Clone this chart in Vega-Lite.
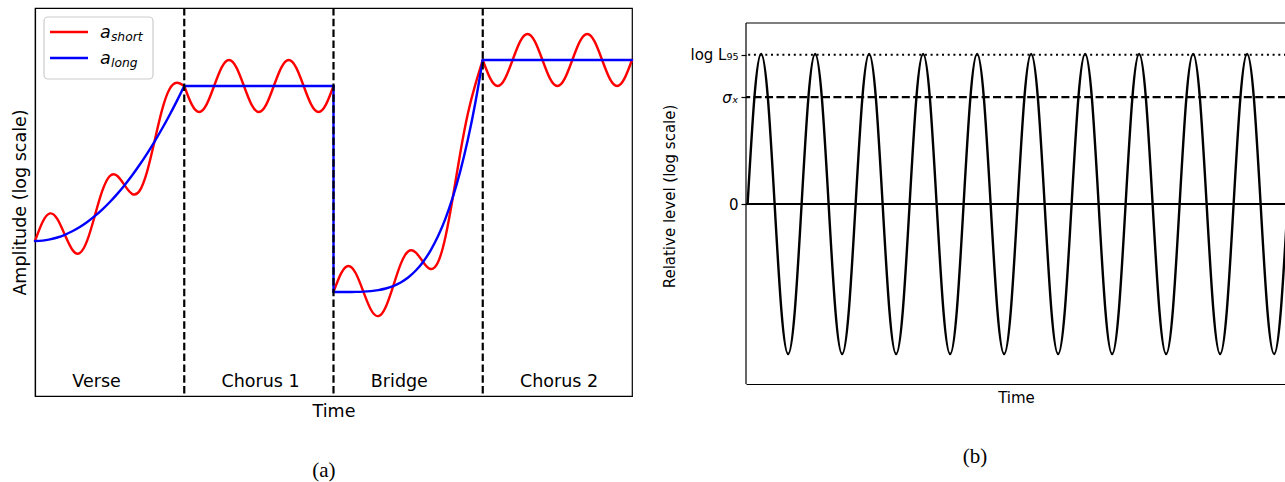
{
  "$schema": "https://vega.github.io/schema/vega-lite/v6.json",
  "padding": {"left": 10, "top": 6, "right": 0, "bottom": 0},
  "background": "white",
  "spacing": 24,
  "config": {
    "font": "DejaVu Sans",
    "view": {"stroke": "black", "strokeWidth": 1.2},
    "axis": {"grid": false, "labelColor": "black", "titleColor": "black", "titleFontWeight": "normal", "domainColor": "black", "tickColor": "black", "labelFont": "DejaVu Sans", "titleFont": "DejaVu Sans"},
    "title": {"color": "black"}
  },
  "datasets": {
    "red": [
      {"x": 0, "v": 155, "seg": "v"}, {"x": 0.05, "v": 173.78, "seg": "v"}, {"x": 0.1, "v": 182.55, "seg": "v"}, {"x": 0.15, "v": 176.88, "seg": "v"},
      {"x": 0.2, "v": 161.2, "seg": "v"}, {"x": 0.25, "v": 146.31, "seg": "v"}, {"x": 0.3, "v": 142.95, "seg": "v"}, {"x": 0.35, "v": 155.61, "seg": "v"},
      {"x": 0.4, "v": 179.8, "seg": "v"}, {"x": 0.45, "v": 204.78, "seg": "v"}, {"x": 0.5, "v": 219.75, "seg": "v"}, {"x": 0.55, "v": 220.28, "seg": "v"},
      {"x": 0.6, "v": 210.8, "seg": "v"}, {"x": 0.65, "v": 202.11, "seg": "v"}, {"x": 0.7, "v": 204.95, "seg": "v"}, {"x": 0.75, "v": 223.81, "seg": "v"},
      {"x": 0.8, "v": 254.2, "seg": "v"}, {"x": 0.85, "v": 285.38, "seg": "v"}, {"x": 0.9, "v": 306.55, "seg": "v"}, {"x": 0.95, "v": 313.28, "seg": "v"},
      {"x": 1, "v": 310, "seg": "v"},
      {"x": 1, "v": 310, "seg": "c1"}, {"x": 1.05, "v": 291.62, "seg": "c1"}, {"x": 1.1, "v": 284, "seg": "c1"}, {"x": 1.15, "v": 291.62, "seg": "c1"},
      {"x": 1.2, "v": 310, "seg": "c1"}, {"x": 1.25, "v": 328.38, "seg": "c1"}, {"x": 1.3, "v": 336, "seg": "c1"}, {"x": 1.35, "v": 328.38, "seg": "c1"},
      {"x": 1.4, "v": 310, "seg": "c1"}, {"x": 1.45, "v": 291.62, "seg": "c1"}, {"x": 1.5, "v": 284, "seg": "c1"}, {"x": 1.55, "v": 291.62, "seg": "c1"},
      {"x": 1.6, "v": 310, "seg": "c1"}, {"x": 1.65, "v": 328.38, "seg": "c1"}, {"x": 1.7, "v": 336, "seg": "c1"}, {"x": 1.75, "v": 328.38, "seg": "c1"},
      {"x": 1.8, "v": 310, "seg": "c1"}, {"x": 1.85, "v": 291.62, "seg": "c1"}, {"x": 1.9, "v": 284, "seg": "c1"}, {"x": 1.95, "v": 291.62, "seg": "c1"},
      {"x": 2, "v": 310, "seg": "c1"},
      {"x": 2, "v": 104, "seg": "b"}, {"x": 2.05, "v": 122.39, "seg": "b"}, {"x": 2.1, "v": 130.02, "seg": "b"}, {"x": 2.15, "v": 122.5, "seg": "b"},
      {"x": 2.2, "v": 104.37, "seg": "b"}, {"x": 2.25, "v": 86.52, "seg": "b"}, {"x": 2.3, "v": 79.88, "seg": "b"}, {"x": 2.35, "v": 89.1, "seg": "b"},
      {"x": 2.4, "v": 109.94, "seg": "b"}, {"x": 2.45, "v": 131.9, "seg": "b"}, {"x": 2.5, "v": 144.5, "seg": "b"}, {"x": 2.55, "v": 143.61, "seg": "b"},
      {"x": 2.6, "v": 134.07, "seg": "b"}, {"x": 2.65, "v": 127.03, "seg": "b"}, {"x": 2.7, "v": 133.7, "seg": "b"}, {"x": 2.75, "v": 159.03, "seg": "b"},
      {"x": 2.8, "v": 199.03, "seg": "b"}, {"x": 2.85, "v": 243.49, "seg": "b"}, {"x": 2.9, "v": 282.21, "seg": "b"}, {"x": 2.95, "v": 311.35, "seg": "b"},
      {"x": 3, "v": 336, "seg": "b"},
      {"x": 3, "v": 336, "seg": "c2"}, {"x": 3.05, "v": 317.62, "seg": "c2"}, {"x": 3.1, "v": 310, "seg": "c2"}, {"x": 3.15, "v": 317.62, "seg": "c2"},
      {"x": 3.2, "v": 336, "seg": "c2"}, {"x": 3.25, "v": 354.38, "seg": "c2"}, {"x": 3.3, "v": 362, "seg": "c2"}, {"x": 3.35, "v": 354.38, "seg": "c2"},
      {"x": 3.4, "v": 336, "seg": "c2"}, {"x": 3.45, "v": 317.62, "seg": "c2"}, {"x": 3.5, "v": 310, "seg": "c2"}, {"x": 3.55, "v": 317.62, "seg": "c2"},
      {"x": 3.6, "v": 336, "seg": "c2"}, {"x": 3.65, "v": 354.38, "seg": "c2"}, {"x": 3.7, "v": 362, "seg": "c2"}, {"x": 3.75, "v": 354.38, "seg": "c2"},
      {"x": 3.8, "v": 336, "seg": "c2"}, {"x": 3.85, "v": 317.62, "seg": "c2"}, {"x": 3.9, "v": 310, "seg": "c2"}, {"x": 3.95, "v": 317.62, "seg": "c2"},
      {"x": 4, "v": 336, "seg": "c2"}
    ],
    "blue": [
      {"x": 0, "v": 155, "seg": "v"}, {"x": 0.05, "v": 155.39, "seg": "v"}, {"x": 0.1, "v": 156.55, "seg": "v"}, {"x": 0.15, "v": 158.49, "seg": "v"},
      {"x": 0.2, "v": 161.2, "seg": "v"}, {"x": 0.25, "v": 164.69, "seg": "v"}, {"x": 0.3, "v": 168.95, "seg": "v"}, {"x": 0.35, "v": 173.99, "seg": "v"},
      {"x": 0.4, "v": 179.8, "seg": "v"}, {"x": 0.45, "v": 186.39, "seg": "v"}, {"x": 0.5, "v": 193.75, "seg": "v"}, {"x": 0.55, "v": 201.89, "seg": "v"},
      {"x": 0.6, "v": 210.8, "seg": "v"}, {"x": 0.65, "v": 220.49, "seg": "v"}, {"x": 0.7, "v": 230.95, "seg": "v"}, {"x": 0.75, "v": 242.19, "seg": "v"},
      {"x": 0.8, "v": 254.2, "seg": "v"}, {"x": 0.85, "v": 266.99, "seg": "v"}, {"x": 0.9, "v": 280.55, "seg": "v"}, {"x": 0.95, "v": 294.89, "seg": "v"},
      {"x": 1, "v": 310, "seg": "v"},
      {"x": 1, "v": 310, "seg": "c1"}, {"x": 2, "v": 310, "seg": "c1"},
      {"x": 2, "v": 310, "seg": "jump"}, {"x": 2, "v": 104, "seg": "jump"},
      {"x": 2, "v": 104, "seg": "b"}, {"x": 2.05, "v": 104, "seg": "b"}, {"x": 2.1, "v": 104.02, "seg": "b"}, {"x": 2.15, "v": 104.12, "seg": "b"},
      {"x": 2.2, "v": 104.37, "seg": "b"}, {"x": 2.25, "v": 104.91, "seg": "b"}, {"x": 2.3, "v": 105.88, "seg": "b"}, {"x": 2.35, "v": 107.48, "seg": "b"},
      {"x": 2.4, "v": 109.94, "seg": "b"}, {"x": 2.45, "v": 113.51, "seg": "b"}, {"x": 2.5, "v": 118.5, "seg": "b"}, {"x": 2.55, "v": 125.23, "seg": "b"},
      {"x": 2.6, "v": 134.07, "seg": "b"}, {"x": 2.65, "v": 145.41, "seg": "b"}, {"x": 2.7, "v": 159.7, "seg": "b"}, {"x": 2.75, "v": 177.41, "seg": "b"},
      {"x": 2.8, "v": 199.03, "seg": "b"}, {"x": 2.85, "v": 225.1, "seg": "b"}, {"x": 2.9, "v": 256.21, "seg": "b"}, {"x": 2.95, "v": 292.97, "seg": "b"},
      {"x": 3, "v": 336, "seg": "b"},
      {"x": 3, "v": 336, "seg": "c2"}, {"x": 4, "v": 336, "seg": "c2"}
    ],
    "bounds": [{"x": 1}, {"x": 2}, {"x": 3}],
    "sections": [
      {"x": 0.25, "v": 9.5, "t": "Verse"},
      {"x": 1.25, "v": 9.5, "t": "Chorus 1"},
      {"x": 2.25, "v": 9.5, "t": "Bridge"},
      {"x": 3.25, "v": 9.5, "t": "Chorus 2"}
    ],
    "legbox": [{"x": 0.0603, "x2": 0.7906, "v": 379, "v2": 317}],
    "legred": [{"x": 0.1005, "x2": 0.3551, "v": 364}],
    "legblue": [{"x": 0.1005, "x2": 0.3551, "v": 338}],
    "legmain": [{"x": 0.4355, "v": 358, "t": "a"}, {"x": 0.4355, "v": 332, "t": "a"}],
    "legsub": [{"x": 0.509, "v": 355, "t": "short"}, {"x": 0.509, "v": 329, "t": "long"}],
    "sine": [
      {"x": 0, "y": 0}, {"x": 0.125, "y": 0.7071}, {"x": 0.25, "y": 1}, {"x": 0.375, "y": 0.7071}, {"x": 0.5, "y": 0}, {"x": 0.625, "y": -0.7071}, {"x": 0.75, "y": -1}, {"x": 0.875, "y": -0.7071},
      {"x": 1, "y": 0}, {"x": 1.125, "y": 0.7071}, {"x": 1.25, "y": 1}, {"x": 1.375, "y": 0.7071}, {"x": 1.5, "y": 0}, {"x": 1.625, "y": -0.7071}, {"x": 1.75, "y": -1}, {"x": 1.875, "y": -0.7071},
      {"x": 2, "y": 0}, {"x": 2.125, "y": 0.7071}, {"x": 2.25, "y": 1}, {"x": 2.375, "y": 0.7071}, {"x": 2.5, "y": 0}, {"x": 2.625, "y": -0.7071}, {"x": 2.75, "y": -1}, {"x": 2.875, "y": -0.7071},
      {"x": 3, "y": 0}, {"x": 3.125, "y": 0.7071}, {"x": 3.25, "y": 1}, {"x": 3.375, "y": 0.7071}, {"x": 3.5, "y": 0}, {"x": 3.625, "y": -0.7071}, {"x": 3.75, "y": -1}, {"x": 3.875, "y": -0.7071},
      {"x": 4, "y": 0}, {"x": 4.125, "y": 0.7071}, {"x": 4.25, "y": 1}, {"x": 4.375, "y": 0.7071}, {"x": 4.5, "y": 0}, {"x": 4.625, "y": -0.7071}, {"x": 4.75, "y": -1}, {"x": 4.875, "y": -0.7071},
      {"x": 5, "y": 0}, {"x": 5.125, "y": 0.7071}, {"x": 5.25, "y": 1}, {"x": 5.375, "y": 0.7071}, {"x": 5.5, "y": 0}, {"x": 5.625, "y": -0.7071}, {"x": 5.75, "y": -1}, {"x": 5.875, "y": -0.7071},
      {"x": 6, "y": 0}, {"x": 6.125, "y": 0.7071}, {"x": 6.25, "y": 1}, {"x": 6.375, "y": 0.7071}, {"x": 6.5, "y": 0}, {"x": 6.625, "y": -0.7071}, {"x": 6.75, "y": -1}, {"x": 6.875, "y": -0.7071},
      {"x": 7, "y": 0}, {"x": 7.125, "y": 0.7071}, {"x": 7.25, "y": 1}, {"x": 7.375, "y": 0.7071}, {"x": 7.5, "y": 0}, {"x": 7.625, "y": -0.7071}, {"x": 7.75, "y": -1}, {"x": 7.875, "y": -0.7071},
      {"x": 8, "y": 0}, {"x": 8.125, "y": 0.7071}, {"x": 8.25, "y": 1}, {"x": 8.375, "y": 0.7071}, {"x": 8.5, "y": 0}, {"x": 8.625, "y": -0.7071}, {"x": 8.75, "y": -1}, {"x": 8.875, "y": -0.7071},
      {"x": 9, "y": 0}, {"x": 9.125, "y": 0.7071}, {"x": 9.25, "y": 1}, {"x": 9.375, "y": 0.7071}, {"x": 9.5, "y": 0}, {"x": 9.625, "y": -0.7071}, {"x": 9.75, "y": -1}, {"x": 9.875, "y": -0.7071},
      {"x": 10, "y": 0}
    ],
    "zero": [{"y": 0}],
    "sigma": [{"y": 0.713}],
    "l95": [{"y": 0.995}],
    "frametop": [{"y": 1.2067}],
    "frameleft": [{"x": -0.03, "y": -1.2, "y2": 1.2067}]
  },
  "hconcat": [
    {
      "width": 597,
      "height": 388,
      "title": {"text": "(a)", "orient": "bottom", "anchor": "middle", "frame": "bounds", "font": "Liberation Serif", "fontSize": 21, "fontWeight": "normal", "offset": 40},
      "layer": [
        {
          "data": {"name": "red"},
          "mark": {"type": "line", "color": "#ff0000", "strokeWidth": 2.4, "interpolate": "natural", "strokeCap": "round"},
          "encoding": {
            "x": {"field": "x", "type": "quantitative", "scale": {"domain": [0, 4], "nice": false, "zero": false},
                  "axis": {"title": "Time", "ticks": false, "labels": false, "domain": true, "domainWidth": 1.2, "titleFontSize": 17.5, "titlePadding": 6}},
            "y": {"field": "v", "type": "quantitative", "scale": {"domain": [0, 388], "nice": false, "zero": false},
                  "axis": {"title": "Amplitude (log scale)", "ticks": false, "labels": false, "domain": true, "domainWidth": 1.2, "titleFontSize": 17.5, "titlePadding": 6}},
            "detail": {"field": "seg"}
          }
        },
        {
          "data": {"name": "blue"},
          "mark": {"type": "line", "color": "#0000ff", "strokeWidth": 2.4, "interpolate": "natural", "strokeCap": "round"},
          "encoding": {
            "x": {"field": "x", "type": "quantitative"},
            "y": {"field": "v", "type": "quantitative"},
            "detail": {"field": "seg"}
          }
        },
        {
          "data": {"name": "bounds"},
          "mark": {"type": "rule", "color": "black", "strokeWidth": 2.2, "strokeDash": [7.5, 3.3]},
          "encoding": {"x": {"field": "x", "type": "quantitative"}}
        },
        {
          "data": {"name": "sections"},
          "mark": {"type": "text", "align": "left", "baseline": "alphabetic", "fontSize": 17.5, "color": "black"},
          "encoding": {
            "x": {"field": "x", "type": "quantitative"},
            "y": {"field": "v", "type": "quantitative"},
            "text": {"field": "t"}
          }
        },
        {
          "data": {"name": "legbox"},
          "mark": {"type": "rect", "fill": "white", "fillOpacity": 0.8, "stroke": "#cccccc", "strokeWidth": 1.2, "cornerRadius": 4},
          "encoding": {
            "x": {"field": "x", "type": "quantitative"},
            "x2": {"field": "x2"},
            "y": {"field": "v", "type": "quantitative"},
            "y2": {"field": "v2"}
          }
        },
        {
          "data": {"name": "legred"},
          "mark": {"type": "rule", "color": "#ff0000", "strokeWidth": 2.4},
          "encoding": {
            "x": {"field": "x", "type": "quantitative"},
            "x2": {"field": "x2"},
            "y": {"field": "v", "type": "quantitative"}
          }
        },
        {
          "data": {"name": "legblue"},
          "mark": {"type": "rule", "color": "#0000ff", "strokeWidth": 2.4},
          "encoding": {
            "x": {"field": "x", "type": "quantitative"},
            "x2": {"field": "x2"},
            "y": {"field": "v", "type": "quantitative"}
          }
        },
        {
          "data": {"name": "legmain"},
          "mark": {"type": "text", "align": "left", "baseline": "alphabetic", "fontSize": 17.5, "fontStyle": "italic", "color": "black"},
          "encoding": {
            "x": {"field": "x", "type": "quantitative"},
            "y": {"field": "v", "type": "quantitative"},
            "text": {"field": "t"}
          }
        },
        {
          "data": {"name": "legsub"},
          "mark": {"type": "text", "align": "left", "baseline": "alphabetic", "fontSize": 12.3, "fontStyle": "italic", "color": "black"},
          "encoding": {
            "x": {"field": "x", "type": "quantitative"},
            "y": {"field": "v", "type": "quantitative"},
            "text": {"field": "t"}
          }
        }
      ]
    },
    {
      "width": 540,
      "height": 376,
      "view": {"stroke": null},
      "title": {"text": "(b)", "orient": "bottom", "anchor": "middle", "frame": "bounds", "font": "Liberation Serif", "fontSize": 21, "fontWeight": "normal", "offset": 41},
      "layer": [
        {
          "data": {"name": "sine"},
          "mark": {"type": "line", "color": "black", "strokeWidth": 2.4, "interpolate": "natural", "clip": true},
          "encoding": {
            "x": {"field": "x", "type": "quantitative", "scale": {"domain": [-0.03, 9.97], "nice": false, "zero": false},
                  "axis": {"orient": "bottom", "title": "Time", "ticks": false, "labels": false, "domain": true, "domainWidth": 1.2, "titleFontSize": 15, "titlePadding": 6}},
            "y": {"field": "y", "type": "quantitative", "scale": {"domain": [-1.2, 1.3067], "nice": false, "zero": false},
                  "axis": {"values": [0, 0.713, 0.995],
                           "labelExpr": "datum.value == 0 ? '0' : (datum.value < 0.9 ? 'σₓ' : 'log L₉₅')",
                           "labelFontStyle": {"condition": {"test": "datum.value > 0.5 && datum.value < 0.9", "value": "italic"}, "value": "normal"},
                           "title": "Relative level (log scale)", "titleFontSize": 15, "titlePadding": 12,
                           "labelFontSize": 15, "labelPadding": 3, "tickSize": 5, "tickWidth": 1.2, "domain": false}}
          }
        },
        {
          "data": {"name": "zero"},
          "mark": {"type": "rule", "color": "black", "strokeWidth": 2.2},
          "encoding": {"y": {"field": "y", "type": "quantitative"}}
        },
        {
          "data": {"name": "sigma"},
          "mark": {"type": "rule", "color": "black", "strokeWidth": 2.2, "strokeDash": [8, 3.4]},
          "encoding": {"y": {"field": "y", "type": "quantitative"}}
        },
        {
          "data": {"name": "l95"},
          "mark": {"type": "rule", "color": "black", "strokeWidth": 2, "strokeDash": [2, 3.7]},
          "encoding": {"y": {"field": "y", "type": "quantitative"}}
        },
        {
          "data": {"name": "frametop"},
          "mark": {"type": "rule", "color": "black", "strokeWidth": 1.2},
          "encoding": {"y": {"field": "y", "type": "quantitative"}}
        },
        {
          "data": {"name": "frameleft"},
          "mark": {"type": "rule", "color": "black", "strokeWidth": 1.2},
          "encoding": {
            "x": {"field": "x", "type": "quantitative"},
            "y": {"field": "y", "type": "quantitative"},
            "y2": {"field": "y2"}
          }
        }
      ]
    }
  ]
}
